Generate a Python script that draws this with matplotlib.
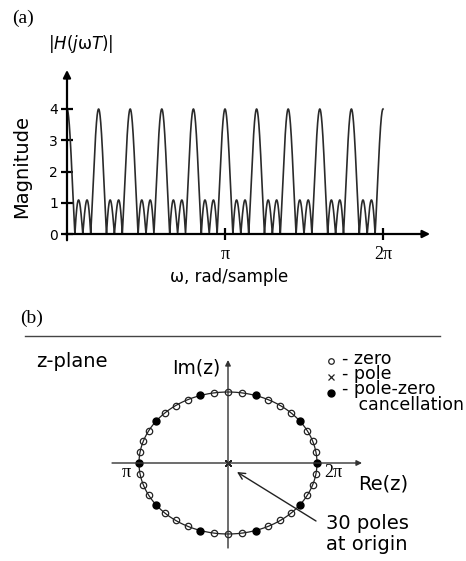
import numpy as np
import matplotlib
matplotlib.use('Agg')
import matplotlib.pyplot as plt
from matplotlib.lines import Line2D

plt.rcParams['font.family'] = ['DejaVu Sans']
plt.rcParams['mathtext.fontset'] = 'dejavusans'

# ── data ─────────────────────────────────────────────────
circle_divisions = 40                       # points on the unit circle, 9 deg apart
cancelled_idx = [0, 4, 8, 12, 16, 20, 24, 28, 32, 36]
zero_idx = [1, 2, 3, 5, 6, 7, 9, 10, 11, 13, 14, 15, 17, 18, 19,
            21, 22, 23, 25, 26, 27, 29, 30, 31, 33, 34, 35, 37, 38, 39]
n_poles_origin = 30
y_ticks = [0, 1, 2, 3, 4]
x_ticks = [np.pi, 2 * np.pi]
x_tick_labels = ['π', '2π']

W, H = 466, 561
SERIF = 'Liberation Serif'


def fx(px):
    return px / W


def fy(py):
    return 1 - py / H


fig = plt.figure(figsize=(W / 100, H / 100), dpi=100)

# ── (a) magnitude response ───────────────────────────────
ax1 = fig.add_axes([fx(67), fy(234), (383 - 67) / W, (234 - 109) / H])
ax1.set_xlim(0, 2 * np.pi)
ax1.set_ylim(0, 4)
for s in ax1.spines.values():
    s.set_visible(False)

zeros = np.exp(2j * np.pi * np.array(zero_idx) / circle_divisions)
w = np.linspace(0, 2 * np.pi, 4000)
ejw = np.exp(1j * w)
# 30 poles at origin only add phase, |H| = prod |e^jw - z_k|
mag = np.abs(np.prod(ejw[:, None] - zeros[None, :], axis=1))
ax1.plot(w, mag, color='#2a2a2a', lw=1.2, clip_on=False)

ax1.set_yticks(y_ticks)
ax1.set_yticklabels([str(v) for v in y_ticks], fontsize=10)
ax1.set_xticks(x_ticks)
ax1.set_xticklabels(x_tick_labels, fontsize=13, family=SERIF)
ax1.tick_params(axis='both', direction='inout', length=9, width=1.6,
                color='black', pad=4)
ax1.tick_params(axis='y', pad=2)

arrow_kw = dict(arrowstyle='-|>', lw=1.6, color='black', mutation_scale=11,
                shrinkA=0, shrinkB=0)
ax1.annotate('', xy=(0, 5.25), xytext=(0, -0.2), arrowprops=arrow_kw,
             annotation_clip=False)
ax1.annotate('', xy=(7.22, 0), xytext=(-0.04, 0), arrowprops=arrow_kw,
             annotation_clip=False)

fig.text(fx(23), fy(18), '(a)', family=SERIF, fontsize=14,
         ha='center', va='center')
fig.text(fx(81), fy(44), r'$|H(j\mathrm{\omega}T)|$', fontsize=12,
         ha='center', va='center')
fig.text(fx(22), fy(167), 'Magnitude', fontsize=14, rotation=90,
         ha='center', va='center')
fig.text(fx(229), fy(277), 'ω, rad/sample', fontsize=12,
         ha='center', va='center')

# ── (b) pole-zero plot ───────────────────────────────────
fig.text(fx(32), fy(318), '(b)', family=SERIF, fontsize=14,
         ha='center', va='center')
fig.add_artist(Line2D([fx(25), fx(440)], [fy(336), fy(336)],
                      color='#444444', lw=1))

ax2 = fig.add_axes([fx(139), fy(534), 178 / W, 142 / H])
ax2.set_xlim(-1, 1)
ax2.set_ylim(-1, 1)
ax2.axis('off')

axis_kw = dict(arrowstyle='-|>', lw=1, color='#333333', mutation_scale=8,
               shrinkA=0, shrinkB=0)
ax2.annotate('', xy=(1.506, 0), xytext=(-1.303, 0), arrowprops=axis_kw,
             annotation_clip=False)
ax2.annotate('', xy=(0, 1.451), xytext=(0, -1.197), arrowprops=axis_kw,
             annotation_clip=False)

t = np.linspace(0, 2 * np.pi, 400)
ax2.plot(np.cos(t), np.sin(t), color='#222222', lw=0.9, clip_on=False)

ang_z = 2 * np.pi * np.array(zero_idx) / circle_divisions
ang_c = 2 * np.pi * np.array(cancelled_idx) / circle_divisions
ax2.plot(np.cos(ang_z), np.sin(ang_z), 'o', ms=4.6, mfc='none', mec='#222222',
         mew=0.9, clip_on=False)
ax2.plot(np.cos(ang_c), np.sin(ang_c), 'o', ms=5, mfc='black', mec='black',
         clip_on=False)
ax2.plot([0] * n_poles_origin, [0] * n_poles_origin, 'x', ms=4.5,
         color='#222222', mew=1, clip_on=False)

fig.text(fx(36), fy(367), 'z-plane', fontsize=14, ha='left', va='baseline')
fig.text(fx(220), fy(373), 'Im(z)', fontsize=13.5, ha='right', va='baseline')
fig.text(fx(358), fy(489), 'Re(z)', fontsize=14, ha='left', va='baseline')
fig.text(fx(126), fy(477), 'π', family=SERIF, fontsize=13,
         ha='center', va='baseline')
fig.text(fx(333), fy(477), '2π', family=SERIF, fontsize=13,
         ha='center', va='baseline')

# legend
fig.add_artist(Line2D([fx(331)], [fy(361)], marker='o', ms=4, mfc='none',
                      mec='#222222', mew=0.9))
fig.add_artist(Line2D([fx(331)], [fy(377)], marker='x', ms=4,
                      color='#222222', mew=0.9))
fig.add_artist(Line2D([fx(331)], [fy(393)], marker='o', ms=5, mfc='black',
                      mec='black'))
fig.text(fx(342), fy(350), '- zero\n- pole\n- pole-zero\n   cancellation',
         fontsize=12.5, ha='left', va='top', linespacing=0.8)

# note
ax2.annotate('', xy=(fx(237), fy(472)), xytext=(fx(316), fy(521)),
             xycoords='figure fraction', textcoords='figure fraction',
             arrowprops=dict(arrowstyle='->', lw=1, color='#222222',
                             mutation_scale=12, shrinkA=0, shrinkB=0))
fig.text(fx(326), fy(529), '30 poles', fontsize=14, ha='left', va='baseline')
fig.text(fx(326), fy(550), 'at origin', fontsize=14, ha='left', va='baseline')

plt.savefig('out.png', dpi=100)
plt.close()
